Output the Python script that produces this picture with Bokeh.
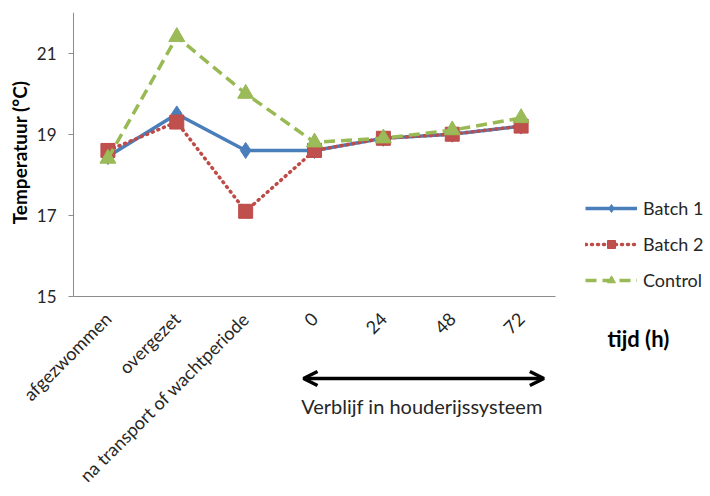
from bokeh.plotting import figure
from bokeh.models import (Range1d, FixedTicker, Legend, LegendItem, Arrow,
                          OpenHead, Label)
from bokeh.embed import file_html
from bokeh.resources import INLINE
from math import pi

# Measurement moments and mean temperatures (°C)
categories = ["afgezwommen", "overgezet", "na transport of wachtperiode",
              "0", "24", "48", "72"]
batch1 = [18.45, 19.5, 18.6, 18.6, 18.9, 19.0, 19.2]
batch2 = [18.6, 19.3, 17.1, 18.6, 18.9, 19.0, 19.2]
control = [18.4, 21.4, 20.0, 18.8, 18.9, 19.1, 19.4]
y_ticks = [15, 17, 19, 21]
y_min, y_max = 15, 22

FONT = "Lato"
TXT = "#262626"
AXIS = "#8c8c8c"

xs = list(range(len(categories)))
x_lo, x_hi = -0.5, len(categories) - 0.5

# The frame fills the whole canvas so that the rotated labels, the legend,
# the arrow and the captions are all drawn inside it; both axes are pinned
# to the data area with fixed_location and limited with bounds.
p = figure(width=710, height=496, output_backend="svg", toolbar_location=None,
           x_range=Range1d(-1.56, 8.75),
           y_range=Range1d(10.07, y_max),
           min_border_left=0, min_border_right=0,
           min_border_top=12, min_border_bottom=0)
p.outline_line_color = None
p.xgrid.visible = False
p.ygrid.visible = False
p.background_fill_color = "white"
p.border_fill_color = "white"

# y axis on x = -0.5
p.yaxis.fixed_location = x_lo
p.yaxis.bounds = (y_min, y_max)
p.yaxis.ticker = FixedTicker(ticks=y_ticks)
p.yaxis.axis_line_color = AXIS
p.yaxis.major_tick_line_color = AXIS
p.yaxis.major_tick_out = 5
p.yaxis.major_tick_in = 0
p.yaxis.minor_tick_line_color = None
p.yaxis.major_label_text_font = FONT
p.yaxis.major_label_text_font_size = "17px"
p.yaxis.major_label_text_color = TXT
p.yaxis.major_label_standoff = 12

# x axis with category names, on y = 15
p.xaxis.fixed_location = y_min
p.xaxis.bounds = (x_lo, x_hi)
p.xaxis.ticker = FixedTicker(ticks=xs)
p.xaxis.major_label_overrides = {i: c for i, c in enumerate(categories)}
p.xaxis.axis_line_color = AXIS
p.xaxis.major_tick_line_color = None
p.xaxis.minor_tick_line_color = None
p.xaxis.major_label_orientation = pi / 4
p.xaxis.major_label_text_font = FONT
p.xaxis.major_label_text_font_size = "18px"
p.xaxis.major_label_text_color = TXT
p.xaxis.major_label_standoff = 13

# y axis title
p.add_layout(Label(x=-1.291, y=18.55, text="Temperatuur (°C)", angle=pi / 2,
                   text_font=FONT, text_font_size="19px",
                   text_font_style="bold", text_color="black",
                   text_align="center", text_baseline="middle"))

# series
l1 = p.line(xs, batch1, line_color="#4A7EBB", line_width=3.5)
m1 = p.scatter(xs, batch1, marker="diamond", size=16,
               fill_color="#4A7EBB", line_color="#4A7EBB")
l2 = p.line(xs, batch2, line_color="#BE4B48", line_width=3.5,
            line_dash="1 5", line_cap="round")
m2 = p.scatter(xs, batch2, marker="square", size=14,
               fill_color="#C0504D", line_color="#BE4B48")
l3 = p.line(xs, control, line_color="#98B954", line_width=3.5,
            line_dash="11 6")
m3 = p.scatter(xs, control, marker="triangle", size=16,
               fill_color="#9BBB59", line_color="#98B954")

legend = Legend(items=[
    LegendItem(label="Batch 1", renderers=[l1, m1]),
    LegendItem(label="Batch 2", renderers=[l2, m2]),
    LegendItem(label="Control", renderers=[l3, m3]),
], location=(585, 205))
legend.border_line_color = None
legend.background_fill_alpha = 0
legend.padding = 0
legend.margin = 0
legend.glyph_width = 52
legend.glyph_height = 20
legend.label_height = 20
legend.spacing = 14
legend.label_standoff = 6
legend.label_text_font = FONT
legend.label_text_font_size = "18px"
legend.label_text_color = TXT
p.add_layout(legend, "center")

# stay in the housing system: 0 h .. 72 h
p.add_layout(Arrow(x_start=2.84, y_start=12.98, x_end=6.33, y_end=12.98,
                   line_width=3.5, line_color="black",
                   start=OpenHead(size=14, line_width=3.5, line_color="black"),
                   end=OpenHead(size=14, line_width=3.5, line_color="black")))
p.add_layout(Label(x=4.56, y=12.31, text="Verblijf in houderijssysteem",
                   text_font=FONT, text_font_size="20px", text_color=TXT,
                   text_align="center", text_baseline="middle"))
p.add_layout(Label(x=7.255, y=13.96, text="tijd (h)",
                   text_font=FONT, text_font_size="22px", text_font_style="bold",
                   text_color="black", text_align="left",
                   text_baseline="middle"))

open("out.html", "w").write(file_html(p, INLINE))
